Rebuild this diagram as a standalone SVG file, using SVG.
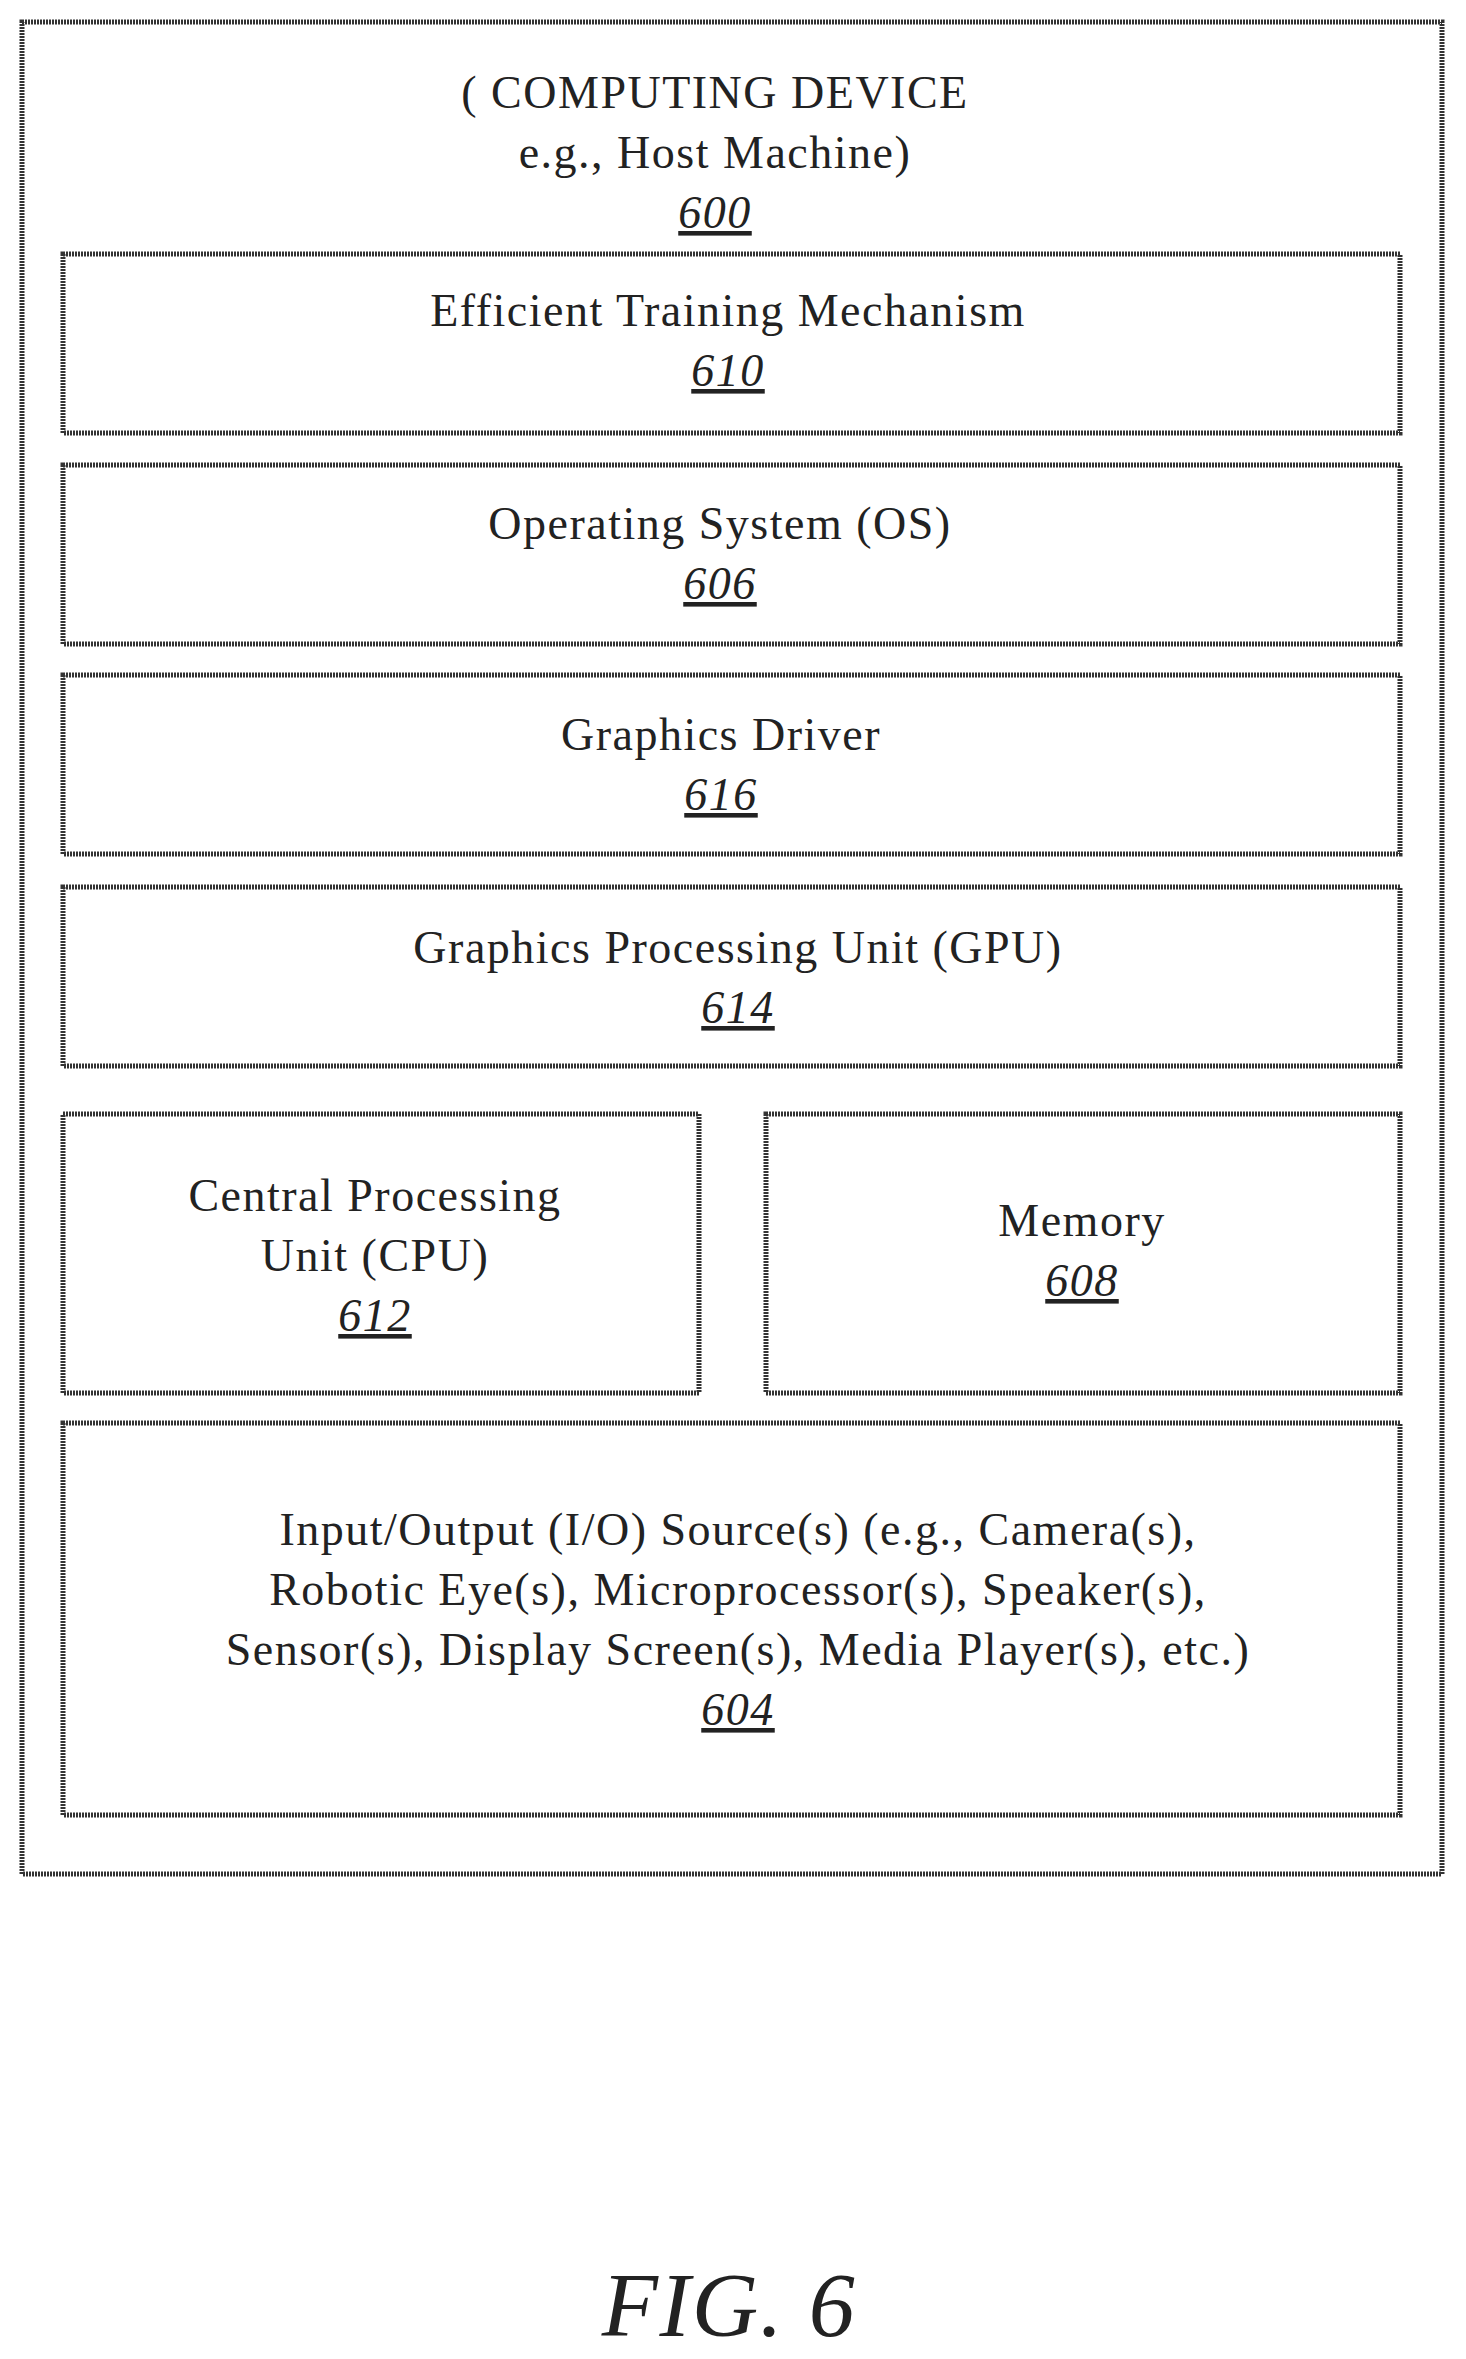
<svg xmlns="http://www.w3.org/2000/svg" width="1466" height="2359" viewBox="0 0 1466 2359">
<style>
.b{fill:none;stroke:#333;stroke-width:5;stroke-dasharray:2 1}
text{font-family:"Liberation Serif","Times New Roman",serif;font-size:46px;fill:#222;text-anchor:middle;letter-spacing:1.5px}
.n{font-style:italic;text-decoration:underline}
</style>
<rect width="1466" height="2359" fill="#fff"/>
<g id="n600"><rect class="b" x="22" y="22" width="1420" height="1852"/>
<text x="715" y="108">( COMPUTING DEVICE</text><text x="715" y="168">e.g., Host Machine)</text><text class="n" x="715" y="228">600</text></g>
<g id="n610"><rect class="b" x="63" y="254" width="1337" height="179"/><text x="728" y="326">Efficient Training Mechanism</text><text class="n" x="728" y="386">610</text></g>
<g id="n606"><rect class="b" x="63" y="465" width="1337" height="179"/><text x="720" y="539">Operating System (OS)</text><text class="n" x="720" y="599">606</text></g>
<g id="n616"><rect class="b" x="63" y="675" width="1337" height="179"/><text x="721" y="750">Graphics Driver</text><text class="n" x="721" y="810">616</text></g>
<g id="n614"><rect class="b" x="63" y="887" width="1337" height="179"/><text x="738" y="963">Graphics Processing Unit (GPU)</text><text class="n" x="738" y="1023">614</text></g>
<g id="n612"><rect class="b" x="63" y="1114" width="636" height="279"/><text x="375" y="1211">Central Processing</text><text x="375" y="1271">Unit (CPU)</text><text class="n" x="375" y="1331">612</text></g>
<g id="n608"><rect class="b" x="766" y="1114" width="634" height="279"/><text x="1082" y="1236">Memory</text><text class="n" x="1082" y="1296">608</text></g>
<g id="n604"><rect class="b" x="63" y="1423" width="1337" height="392"/><text x="738" y="1545">Input/Output (I/O) Source(s) (e.g., Camera(s),</text><text x="738" y="1605">Robotic Eye(s), Microprocessor(s), Speaker(s),</text><text x="738" y="1665">Sensor(s), Display Screen(s), Media Player(s), etc.)</text><text class="n" x="738" y="1725">604</text></g>
<g id="connectors"/>
<text x="729" y="2336" style="font-style:italic;font-size:92px">FIG. 6</text>
</svg>
